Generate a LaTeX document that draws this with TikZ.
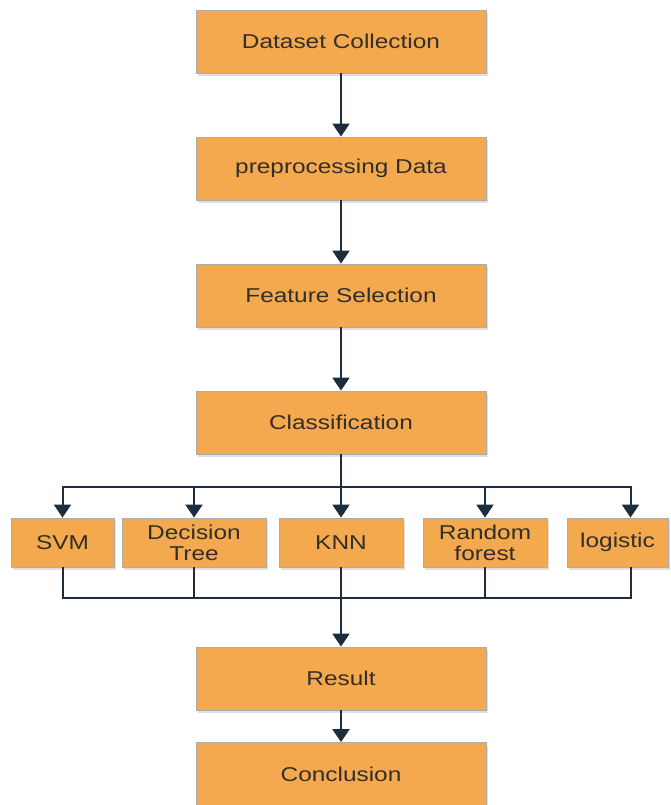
\documentclass[tikz,border=0pt]{standalone}
\usepackage{fontspec}
\setmainfont{Liberation Sans}[FakeStretch=1.22]
\usepackage{tikz}
\usetikzlibrary{positioning,shapes,arrows.meta,shadows}

\definecolor{boxorange}{RGB}{244,169,78}
\definecolor{linkblue}{RGB}{28,45,62}
\definecolor{textgray}{RGB}{50,46,42}

\tikzset{
  stage/.style={draw=gray!65, line width=0.8pt, fill=boxorange, rectangle,
    minimum width=290pt, minimum height=63pt, text=textgray,
    drop shadow={shadow xshift=1.5pt, shadow yshift=-3pt, opacity=0.25}},
  algo/.style={stage, minimum height=49pt, align=center},
  link/.style={draw=linkblue, line width=2pt},
}

\begin{document}
\begin{tikzpicture}[x=1pt, y=1pt, node distance=127pt, auto,
    >={Triangle[length=13pt,width=17pt]},
    font=\fontsize{20}{21}\selectfont]
                    \useasboundingbox (0,0) rectangle (670,-805);
                    \node[stage] (collect) at (341,-41.5) {Dataset Collection};
                    \node[stage, below of=collect] (prep) {preprocessing Data};
                    \node[stage, below of=prep] (feature) {Feature Selection};
                    \node[stage, below of=feature] (classify) {Classification};

                    \node[algo, minimum width=103pt] (svm) at (62.5,-542.5) {SVM};
                    \node[algo, minimum width=144pt] (dtree) at (194,-542.5) {Decision\\Tree};
                    \node[algo, minimum width=124pt] (knn) at (341,-542.5) {KNN};
                    \node[algo, minimum width=124pt] (rforest) at (485,-542.5) {Random\\forest};
                    \node[algo, minimum width=101pt] (logistic) at (617.5,-542.5) {logistic};

                    \node[stage] (result) at (341,-678.5) {Result};
                    \node[stage, below of=result, node distance=95.5pt] (concl) {Conclusion};

                    \coordinate (split) at (341,-487);
                    \coordinate (join) at (341,-598);
                    
                    \draw[link, ->] (collect) -- (prep);
                    \draw[link, ->] (prep) -- (feature);
                    \draw[link, ->] (feature) -- (classify);
                    \draw[link, ->] (classify) -- (knn);
                    \draw[link, ->] (split) -| (svm);
                    \draw[link, ->] (split) -| (dtree);
                    \draw[link, ->] (split) -| (rforest);
                    \draw[link, ->] (split) -| ([xshift=13pt]logistic.north);
                    \draw[link] (svm) |- (join);
                    \draw[link] (dtree) |- (join);
                    \draw[link] (rforest) |- (join);
                    \draw[link] ([xshift=13pt]logistic.south) |- (join);
                    \draw[link, ->] (knn) -- (result);
                    \draw[link, ->] (result) -- (concl);
                \end{tikzpicture}
\end{document}
